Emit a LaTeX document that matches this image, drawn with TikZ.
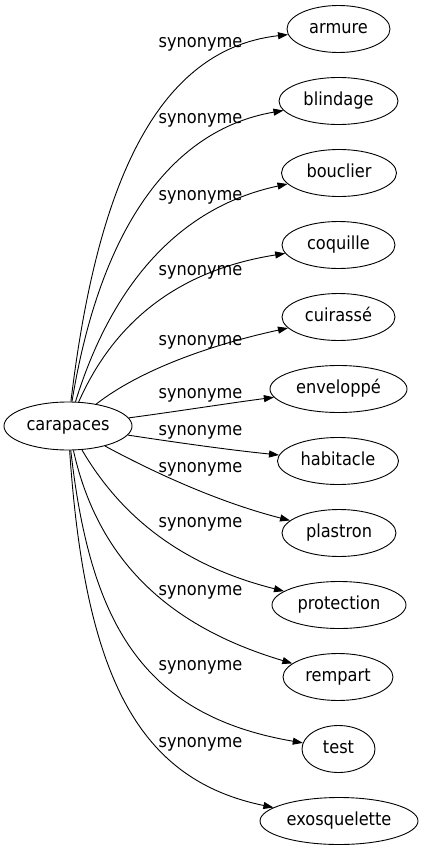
\documentclass[tikz,border=0pt]{standalone}
\usepackage{fontspec}
\setmainfont{DejaVu Sans}[FakeStretch=0.9]
\usetikzlibrary{shapes.geometric,arrows.meta}
\begin{document}
\begin{tikzpicture}[x=1pt,y=-1pt,
  word/.style={ellipse,draw,line width=0.9pt,inner sep=0pt,minimum height=47pt,
    text height=12.5pt,text depth=4pt,font=\fontsize{18}{20}\selectfont},
  lab/.style={anchor=base,inner sep=0pt,font=\fontsize{18}{20}\selectfont},
  syn/.style={-{Triangle[length=10pt,width=7pt]},line width=0.9pt}]
\useasboundingbox (0,0) rectangle (423,851);

\node[word,minimum width=128pt,minimum height=48pt] (c) at (68,426) {carapaces};

\node[word,minimum width=103pt] (n1) at (338.5,29) {armure};
\node[word,minimum width=119pt] (n2) at (338.5,101) {blindage};
\node[word,minimum width=115pt] (n3) at (339,173) {bouclier};
\node[word,minimum width=113pt] (n4) at (338.5,245) {coquille};
\node[word,minimum width=113pt] (n5) at (338.5,317) {cuirassé};
\node[word,minimum width=137pt] (n6) at (338.5,389) {enveloppé};
\node[word,minimum width=121pt] (n7) at (338,461) {habitacle};
\node[word,minimum width=114pt] (n8) at (339,533) {plastron};
\node[word,minimum width=134pt] (n9) at (339,605) {protection};
\node[word,minimum width=110pt] (n10) at (338,677) {rempart};
\node[word,minimum width=73pt] (n11) at (338.5,749) {test};
\node[word,minimum width=158pt] (n12) at (339,821) {exosquelette};

\node[lab] (l1) at (200.5,48) {synonyme};
\node[lab] (l2) at (200.5,123) {synonyme};
\node[lab] (l3) at (200.5,200) {synonyme};
\node[lab] (l4) at (200.5,275) {synonyme};
\node[lab] (l5) at (200.5,345) {synonyme};
\node[lab] (l6) at (200.5,398) {synonyme};
\node[lab] (l7) at (200.5,435) {synonyme};
\node[lab] (l8) at (200.5,472) {synonyme};
\node[lab] (l9) at (200.5,527) {synonyme};
\node[lab] (l10) at (200.5,595) {synonyme};
\node[lab] (l11) at (200.5,670) {synonyme};
\node[lab] (l12) at (200.5,747) {synonyme};

\draw[syn] (c) .. controls (95,200) and (150,50) .. (n1);
\draw[syn] (c) .. controls (100,230) and (170,130) .. (n2);
\draw[syn] (c) .. controls (110,290) and (175,208) .. (n3);
\draw[syn] (c) .. controls (115,320) and (180,270) .. (n4);
\draw[syn] (c) .. controls (140,370) and (210,345) .. (n5);
\draw[syn] (c) .. controls (180,411) and (230,403) .. (n6);
\draw[syn] (c) .. controls (180,443) and (230,450) .. (n7);
\draw[syn] (c) .. controls (140,465) and (210,500) .. (n8);
\draw[syn] (c) .. controls (120,515) and (180,565) .. (n9);
\draw[syn] (c) .. controls (100,570) and (180,630) .. (n10);
\draw[syn] (c) .. controls (90,620) and (140,715) .. (n11);
\draw[syn] (c) .. controls (85,680) and (140,780) .. (n12);
\end{tikzpicture}
\end{document}
